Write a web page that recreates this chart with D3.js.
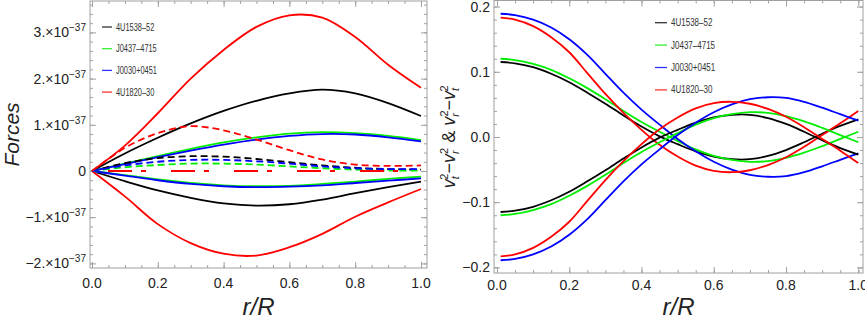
<!DOCTYPE html>
<html>
<head>
<meta charset="utf-8">
<script src="https://cdn.jsdelivr.net/npm/d3@7"></script>
<style>
  body { margin: 0; background: #fff; }
  svg { display: block; font-family: "Liberation Sans", Arial, sans-serif; }
</style>
</head>
<body>
<svg id="drawing_region" width="865" height="328"></svg>
<script>
// ---- data ----
const stars  = ["4U1538\u201352", "J0437\u20134715", "J0030+0451", "4U1820\u201330"];
const colors = ["#000000", "#00ee00", "#0000ff", "#ff0000"];

// left panel: Forces (units of 1e-37) vs r/R
const rLeft = [0, 0.1, 0.2, 0.3, 0.4, 0.5, 0.6, 0.7, 0.8, 0.9, 1.0];
const forceUpper = [
  [0, 0.38, 0.72, 1.03, 1.30, 1.52, 1.68, 1.76, 1.68, 1.47, 1.19],
  [0, 0.16, 0.32, 0.48, 0.62, 0.73, 0.81, 0.84, 0.82, 0.76, 0.67],
  [0, 0.15, 0.30, 0.44, 0.57, 0.68, 0.76, 0.80, 0.79, 0.73, 0.64],
  [0, 0.55, 1.25, 2.00, 2.62, 3.12, 3.37, 3.32, 2.90, 2.30, 1.80]
];
const forceDashed = [
  [0, 0.17, 0.28, 0.32, 0.31, 0.26, 0.19, 0.12, 0.07, 0.04, 0.03],
  [0, 0.08, 0.13, 0.16, 0.16, 0.14, 0.10, 0.06, 0.03, 0.01, 0.01],
  [0, 0.12, 0.20, 0.24, 0.24, 0.21, 0.16, 0.10, 0.06, 0.04, 0.04],
  [0, 0.50, 0.82, 0.97, 0.88, 0.68, 0.45, 0.25, 0.14, 0.11, 0.12]
];
const forceLower = [
  [0, -0.22, -0.42, -0.58, -0.70, -0.75, -0.72, -0.62, -0.48, -0.35, -0.23],
  [0, -0.09, -0.18, -0.26, -0.31, -0.33, -0.32, -0.28, -0.23, -0.17, -0.12],
  [0, -0.10, -0.20, -0.28, -0.33, -0.35, -0.34, -0.31, -0.26, -0.21, -0.16],
  [0, -0.55, -1.15, -1.56, -1.79, -1.83, -1.65, -1.36, -0.99, -0.68, -0.39]
];
const forceZero = [0, 0, 0, 0, 0, 0, 0, 0, 0, 0, 0];

// right panel: vt^2 - vr^2 (upper) and vr^2 - vt^2 (lower)
const rRight = [0.01, 0.05, 0.1, 0.15, 0.2, 0.25, 0.3, 0.35, 0.4, 0.45, 0.5,
                0.55, 0.6, 0.65, 0.7, 0.75, 0.8, 0.85, 0.9, 0.95, 1.0];
const velUpper = [
  [0.115, 0.113, 0.107, 0.097, 0.084, 0.068, 0.051, 0.033, 0.016, 0.001, -0.011,
   -0.022, -0.030, -0.034, -0.034, -0.029, -0.020, -0.008, 0.005, 0.017, 0.027],
  [0.120, 0.118, 0.112, 0.103, 0.090, 0.075, 0.058, 0.040, 0.023, 0.008, -0.006,
   -0.019, -0.029, -0.035, -0.038, -0.037, -0.032, -0.024, -0.014, -0.003, 0.008],
  [0.189, 0.187, 0.180, 0.168, 0.150, 0.126, 0.097, 0.068, 0.042, 0.019, -0.003,
   -0.022, -0.038, -0.050, -0.058, -0.061, -0.060, -0.054, -0.045, -0.035, -0.025],
  [0.183, 0.180, 0.170, 0.153, 0.130, 0.098, 0.066, 0.037, 0.011, -0.012, -0.030,
   -0.044, -0.052, -0.054, -0.051, -0.043, -0.031, -0.015, 0.003, 0.021, 0.040]
];
const velLower = [
  [-0.115, -0.113, -0.107, -0.097, -0.084, -0.068, -0.051, -0.033, -0.016, -0.001, 0.011,
   0.022, 0.030, 0.034, 0.034, 0.029, 0.020, 0.008, -0.005, -0.017, -0.027],
  [-0.120, -0.118, -0.112, -0.103, -0.090, -0.075, -0.058, -0.040, -0.023, -0.008, 0.006,
   0.019, 0.029, 0.035, 0.038, 0.037, 0.032, 0.024, 0.014, 0.003, -0.008],
  [-0.189, -0.187, -0.180, -0.168, -0.150, -0.126, -0.097, -0.068, -0.042, -0.019, 0.003,
   0.022, 0.038, 0.050, 0.058, 0.061, 0.060, 0.054, 0.045, 0.035, 0.025],
  [-0.183, -0.180, -0.170, -0.153, -0.130, -0.098, -0.066, -0.037, -0.011, 0.012, 0.030,
   0.044, 0.052, 0.054, 0.051, 0.043, 0.031, 0.015, -0.003, -0.021, -0.040]
];

// ticks
const xTicks = [0, 0.2, 0.4, 0.6, 0.8, 1.0];
const xMinor = d3.range(0, 1.001, 0.05);
const leftYTicks = [-2, -1, 0, 1, 2, 3];
const leftYMantissa = ["\u22122.", "\u22121.", "0", "1.", "2.", "3."];
const leftYExp = "\u221237";
const leftYMinor = d3.range(-2, 3.61, 0.2);
const rightYTicks = [-0.2, -0.1, 0, 0.1, 0.2];
const rightYMinor = d3.range(-0.2, 0.201, 0.02);

// ---- drawing ----
const svg = d3.select('#drawing_region');

function drawFrame(p) {
  const g = svg.append('g');
  const mk = (axis, tr, vals, size) => {
    const a = g.append('g').attr('transform', tr)
      .call(axis.tickValues(vals).tickSize(size).tickFormat(''));
    a.select('.domain').remove();
    a.selectAll('line').attr('stroke', '#a0a0a0');
  };
  [[p.xMinor, -3], [p.xTicks, -6]].forEach(([v, s]) => {
    mk(d3.axisBottom(p.x), `translate(0,${p.y1})`, v, s);
    mk(d3.axisTop(p.x), `translate(0,${p.y0})`, v, s);
  });
  [[p.yMinor, -3], [p.yTicks, -6]].forEach(([v, s]) => {
    mk(d3.axisLeft(p.y), `translate(${p.x0},0)`, v, s);
    mk(d3.axisRight(p.y), `translate(${p.x1},0)`, v, s);
  });
  g.append('rect')
    .attr('x', p.x0).attr('y', p.y0)
    .attr('width', p.x1 - p.x0).attr('height', p.y1 - p.y0)
    .attr('fill', 'none').attr('stroke', '#a0a0a0').attr('stroke-width', 1);

  // x tick labels
  g.selectAll('.xl').data(p.xTicks).enter().append('text')
    .attr('x', d => p.x(d)).attr('y', p.y1 + p.xLabelDy)
    .attr('text-anchor', 'middle').attr('font-size', 14).attr('fill', '#222')
    .text(d => d3.format('.1f')(d));
  // x title
  g.append('text')
    .attr('x', (p.x0 + p.x1) / 2).attr('y', 315)
    .attr('text-anchor', 'middle').attr('font-size', 24)
    .attr('font-style', 'italic').attr('fill', '#222')
    .text('r/R');
}

function drawLines(p, rs, series, dash, width) {
  const line = d3.line()
    .x((d, i) => p.x(rs[i]))
    .y(d => p.y(d))
    .curve(d3.curveCatmullRom.alpha(0.5));
  svg.append('g').selectAll('path').data(series).enter().append('path')
    .attr('d', line)
    .attr('fill', 'none')
    .attr('stroke', (d, i) => colors[i])
    .attr('stroke-width', width)
    .attr('stroke-dasharray', dash);
}

function drawLegend(lg) {
  const g = svg.append('g');
  stars.forEach((s, i) => {
    const y = lg.y + i * lg.dy;
    g.append('line')
      .attr('x1', lg.x).attr('x2', lg.x + lg.len)
      .attr('y1', y).attr('y2', y)
      .attr('stroke', colors[i]).attr('stroke-width', 1.3).attr('opacity', 0.8);
    const t = g.append('text')
      .attr('x', lg.x + lg.len + 4).attr('y', y + 3.5)
      .attr('font-size', 10).attr('fill', '#333')
      .text(s);
    const w = t.node().getComputedTextLength();
    t.attr('textLength', w * lg.squeeze).attr('lengthAdjust', 'spacingAndGlyphs');
  });
}

// left panel
const L = {
  x0: 90, x1: 427, y0: 1, y1: 268,
  x: d3.scaleLinear().domain([0, 1]).range([92, 421]),
  y: d3.scaleLinear().domain([0, 3]).range([171, 32.4]),
  xTicks: xTicks, xMinor: xMinor,
  yTicks: leftYTicks, yMinor: leftYMinor,
  xLabelDy: 20
};
drawFrame(L);
leftYTicks.forEach((d, i) => {
  const t = svg.append('text')
    .attr('x', 86).attr('y', L.y(d) + 5)
    .attr('text-anchor', 'end').attr('font-size', 14).attr('fill', '#222');
  if (d === 0) { t.text(leftYMantissa[i]); return; }
  t.append('tspan').text(leftYMantissa[i] + '\u00d7' + '10');
  t.append('tspan').attr('font-size', 10).attr('dy', -6).text(leftYExp);
});
svg.append('text')
  .attr('transform', `translate(19,${(L.y0 + L.y1) / 2}) rotate(-90)`)
  .attr('text-anchor', 'middle').attr('font-size', 21)
  .attr('font-style', 'italic').attr('fill', '#222')
  .text('Forces');

drawLines(L, rLeft, forceUpper, null, 1.8);
drawLines(L, rLeft, forceLower, null, 1.8);
drawLines(L, rLeft, forceDashed, '7,4', 1.8);
svg.append('path')
  .attr('d', d3.line().x((d, i) => L.x(rLeft[i])).y(d => L.y(d))(forceZero))
  .attr('fill', 'none').attr('stroke', colors[3]).attr('stroke-width', 1.8)
  .attr('stroke-dasharray', '0,16,24,9,5,9');
drawLegend({x: 102, y: 27, dy: 21.7, len: 10, squeeze: 0.74});

// right panel
const R = {
  x0: 494, x1: 863, y0: 0.5, y1: 273,
  x: d3.scaleLinear().domain([0, 1]).range([497, 858.3]),
  y: d3.scaleLinear().domain([-0.2, 0.2]).range([267.4, 6.6]),
  xTicks: xTicks, xMinor: xMinor,
  yTicks: rightYTicks, yMinor: rightYMinor,
  xLabelDy: 17
};
drawFrame(R);
svg.append('g').selectAll('text').data(rightYTicks).enter().append('text')
  .attr('x', 490).attr('y', d => R.y(d) + 5)
  .attr('text-anchor', 'end').attr('font-size', 14).attr('fill', '#222')
  .text(d => d3.format('.1f')(d));

// y title: vt^2 - vr^2 & vr^2 - vt^2
const yt = svg.append('text')
  .attr('transform', `translate(455,${(R.y0 + R.y1) / 2}) rotate(-90)`)
  .attr('text-anchor', 'middle').attr('font-size', 18).attr('fill', '#222');
const terms = [['t', ''], ['r', '\u2212'], ['r', ' & '], ['t', '\u2212']];
terms.forEach(([sub, lead], k) => {
  const back = k === 0 ? 0 : 7;
  if (lead) yt.append('tspan').attr('font-size', 18).attr('dy', back).text(lead);
  yt.append('tspan').attr('font-style', 'italic').attr('font-size', 18)
    .attr('dy', lead ? 0 : back).text('v');
  yt.append('tspan').attr('font-style', 'italic').attr('font-size', 11).attr('dy', 4).text(sub);
  yt.append('tspan').attr('font-size', 11).attr('dx', -3.5).attr('dy', -11).text('2');
});

drawLines(R, rRight, velUpper, null, 1.8);
drawLines(R, rRight, velLower, null, 1.8);
drawLegend({x: 655, y: 22.7, dy: 22.4, len: 12, squeeze: 0.8});
</script>
</body>
</html>
